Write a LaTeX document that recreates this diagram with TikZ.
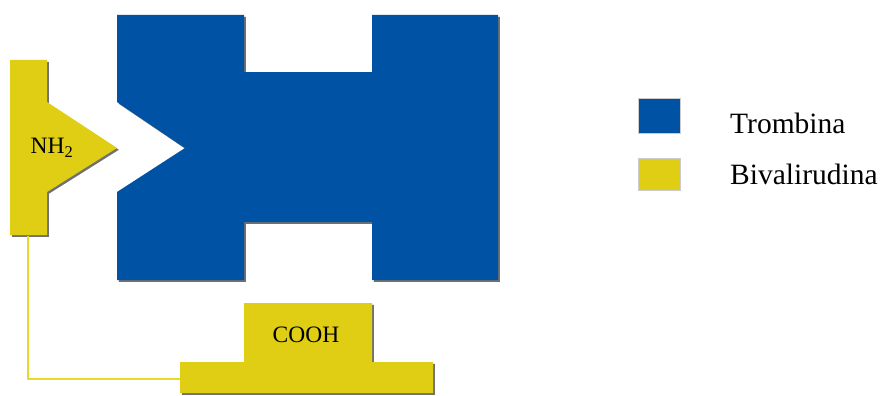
\documentclass[tikz,border=0pt]{standalone}
\usepackage{fontspec}
\setmainfont{Liberation Serif}
\definecolor{tblue}{RGB}{0,82,165}
\definecolor{byellow}{RGB}{224,206,20}
\definecolor{lyellow}{RGB}{232,218,40}
\begin{document}
\begin{tikzpicture}[x=1pt,y=-1pt,
  shadowfill/.style={fill=black!75, opacity=0.75},
  bluefill/.style={fill=tblue},
  yellowfill/.style={fill=byellow},
  bigtext/.style={inner sep=0pt, font=\fontsize{23.5}{28}\selectfont},
  legtext/.style={inner sep=0pt, anchor=base west, font=\fontsize{29.5}{34}\selectfont},
  legbox/.style={inner sep=0pt, minimum width=42pt, draw=white!80!black, line width=0.4pt},
  link/.style={draw=lyellow, line width=2pt}]
\useasboundingbox (0,0) rectangle (883,396);

% Trombina (blue H shape with V notch)
\def\trombinapath{(117,15) -- (244,15) -- (244,72) -- (372,72) -- (372,15) -- (498,15) -- (498,280) -- (372,280) -- (372,222) -- (244,222) -- (244,280) -- (117,280) -- (117,192) -- (185,148) -- (117,102) -- cycle}
\fill[shadowfill, shift={(1.8,1.8)}] \trombinapath;
\fill[bluefill] \trombinapath;

% Bivalirudina N-terminal part
\def\nhpath{(10,60) -- (47,60) -- (47,102) -- (117,148) -- (47,192) -- (47,235) -- (10,235) -- cycle}
\fill[shadowfill, shift={(1.8,1.8)}] \nhpath;
\fill[yellowfill] \nhpath;

% Bivalirudina C-terminal part
\def\coohpath{(180,362) -- (244,362) -- (244,303) -- (372,303) -- (372,362) -- (433,362) -- (433,393) -- (180,393) -- cycle}
\fill[shadowfill, shift={(1.8,1.8)}] \coohpath;
\fill[yellowfill] \coohpath;

\node[bigtext] (nh2) at (52,148) {NH\textsubscript{2}};
\node[bigtext] (cooh) at (306,335) {COOH};

% connector
\coordinate (nhbot) at (28,236);
\coordinate (coohleft) at (180,379);
\draw[link] (nhbot) |- (coohleft);

% legend
\node[legbox, fill=tblue, minimum height=35pt] (lblue) at (659,115.5) {};
\node[legbox, fill=byellow, minimum height=32pt] (lyel) at (659,174) {};
\node[legtext] (ltromb) at (730,133) {Trombina};
\node[legtext] (lbival) at (730,184) {Bivalirudina};
\end{tikzpicture}
\end{document}
